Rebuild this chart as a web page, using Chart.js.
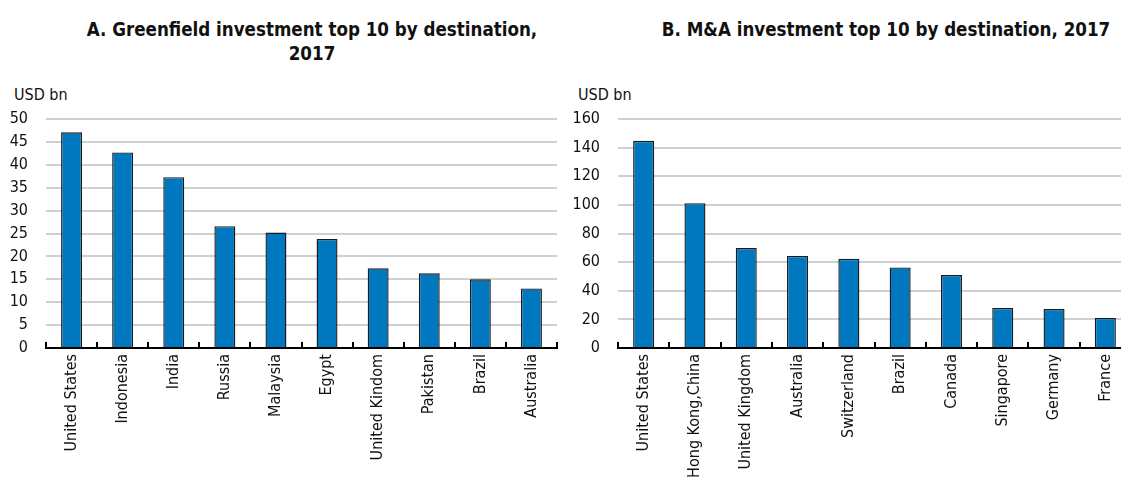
<!DOCTYPE html>
<html>
<head>
<meta charset="utf-8">
<title>Greenfield and M&amp;A investment top 10 by destination, 2017</title>
<script src="https://cdn.jsdelivr.net/npm/chart.js@4.4.1/dist/chart.umd.min.js"></script>
<style>
    body { margin: 0; width: 1121px; height: 488px; overflow: hidden; background: #fff; position: relative;
           font-family: "Liberation Sans Narrow", "Arial Narrow", "DejaVu Sans Condensed", sans-serif; color: #111; }
    .title { position: absolute; font-weight: bold; font-size: 18.6px; text-align: center; line-height: 24px; white-space: nowrap; }
    .unit { position: absolute; font-size: 16px; }
    .box { position: absolute; top: 0; }
</style>
</head>
<body>
    <div class="title" id="titleA" style="left: 62px; width: 500px; top: 18px;">A. Greenfield investment top 10 by destination,<br>2017</div>
    <div class="title" id="titleB" style="left: 636px; width: 500px; top: 18px;">B. M&amp;A investment top 10 by destination, 2017</div>
    <div class="unit" style="left: 14px; top: 85px;">USD bn</div>
    <div class="unit" style="left: 578px; top: 85px;">USD bn</div>

    <div class="box" style="left: 0px;"><canvas id="green" width="562" height="488"></canvas></div>
    <div class="box" style="left: 560px;"><canvas id="ma" width="576" height="488"></canvas></div>

<script>
    // data
    const greenLabels = ['United States', 'Indonesia', 'India', 'Russia', 'Malaysia', 'Egypt', 'United Kindom', 'Pakistan', 'Brazil', 'Australia'];
    const greenValues = [47.1, 42.7, 37.3, 26.6, 25.2, 23.8, 17.4, 16.3, 15.0, 13.0];
    const greenTicks = { max: 50, step: 5 };

    const maLabels = ['United States', 'Hong Kong,China', 'United Kingdom', 'Australia', 'Switzerland', 'Brazil', 'Canada', 'Singapore', 'Germany', 'France'];
    const maValues = [144.8, 101.2, 69.8, 64.3, 62.3, 56.3, 51.0, 28.0, 27.2, 21.0];
    const maTicks = { max: 160, step: 20 };

    const FONT = '"Liberation Sans Narrow", "Arial Narrow", "DejaVu Sans Condensed", sans-serif';
    Chart.defaults.font.family = FONT;
    Chart.defaults.font.size = 16;
    Chart.defaults.color = '#111';

    // short tick marks pointing up from the x axis, at category boundaries
    const upTicks = {
        id: 'upTicks',
        afterDraw(chart) {
            const x = chart.scales.x, ctx = chart.ctx;
            const n = chart.data.labels.length;
            const w = x.width / n;
            ctx.save();
            ctx.strokeStyle = '#000';
            ctx.lineWidth = 2;
            ctx.beginPath();
            for (let i = 0; i <= n; i++) {
                const px = Math.round(x.left + i * w);
                ctx.moveTo(px, x.top);
                ctx.lineTo(px, x.top - 6);
            }
            ctx.stroke();
            ctx.restore();
        }
    };

    function makeChart(id, labels, values, ticks, yWidth) {
        return new Chart(document.getElementById(id), {
            type: 'bar',
            data: {
                labels: labels,
                datasets: [{
                    data: values,
                    backgroundColor: '#0078c0',
                    borderColor: '#1a1a1a',
                    borderWidth: 1.4,
                    barPercentage: 0.41,
                    categoryPercentage: 1
                }]
            },
            options: {
                responsive: false,
                animation: false,
                layout: { padding: { top: 119, right: 5, left: 0, bottom: 0 } },
                plugins: { legend: { display: false }, tooltip: { enabled: false } },
                scales: {
                    x: {
                        grid: { display: false, drawTicks: false },
                        border: { display: true, color: '#000', width: 2 },
                        ticks: { minRotation: 90, maxRotation: 90, padding: 6, autoSkip: false },
                        afterFit(scale) { scale.height = 140; }
                    },
                    y: {
                        min: 0,
                        max: ticks.max,
                        grid: { color: '#d0d0d0', lineWidth: 2, drawTicks: false },
                        border: { display: false },
                        ticks: { stepSize: ticks.step, padding: 18 },
                        afterFit(scale) { scale.width = yWidth; }
                    }
                }
            },
            plugins: [upTicks]
        });
    }

    makeChart('green', greenLabels, greenValues, greenTicks, 46);
    makeChart('ma', maLabels, maValues, maTicks, 58);
</script>
</body>
</html>
